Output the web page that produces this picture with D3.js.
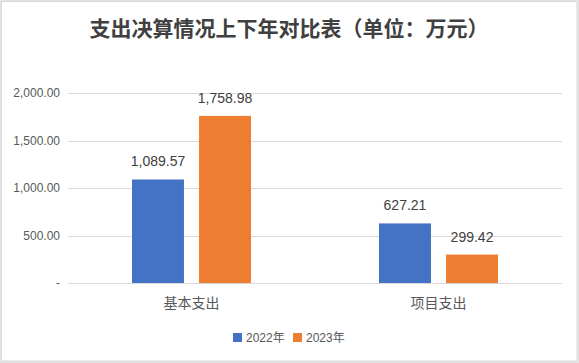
<!DOCTYPE html>
<html>
<head>
<meta charset="utf-8">
<script src="https://cdn.jsdelivr.net/npm/d3@7"></script>
<style>
  html, body { margin: 0; padding: 0; background: #e3e3e3; }
  svg { display: block; }
</style>
</head>
<body>
<div id="chart"></div>
<script>
// chart data
const categories = ["基本支出", "项目支出"];
const seriesNames = ["2022年", "2023年"];
const values2022 = [1089.57, 627.21];
const values2023 = [1758.98, 299.42];
const yTicks = [0, 500, 1000, 1500, 2000];
const colors = ["#4472C4", "#ED7D31"];

const W = 579, H = 363;
const margin = { top: 93, right: 17, bottom: 80, left: 68 };
const plotW = W - margin.left - margin.right;
const plotH = H - margin.top - margin.bottom;

const svg = d3.select("#chart").append("svg")
    .attr("width", W)
    .attr("height", H);

// frame
svg.append("rect")
    .attr("x", 1.5).attr("y", 1.5)
    .attr("width", W - 3.5).attr("height", H - 3.5)
    .attr("fill", "#fff")
    .attr("stroke", "#d9d9d9");

// title
svg.append("text")
    .attr("x", 289)
    .attr("y", 36)
    .attr("text-anchor", "middle")
    .attr("font-family", "'Noto Sans CJK SC', sans-serif")
    .attr("font-size", 21)
    .attr("font-weight", "bold")
    .attr("fill", "#404040")
    .text("支出决算情况上下年对比表（单位：万元）");

const g = svg.append("g")
    .attr("transform", `translate(${margin.left},${margin.top})`);

const x0 = d3.scaleBand()
    .domain(categories)
    .range([0, plotW])
    .paddingInner(0)
    .paddingOuter(0);

const x1 = d3.scaleBand()
    .domain(seriesNames)
    .range([64, x0.bandwidth() - 64])
    .paddingInner(0.225);

const y = d3.scaleLinear()
    .domain([0, 2000])
    .range([plotH, 0]);

// gridlines
g.append("g")
    .selectAll("line")
    .data(yTicks)
    .enter().append("line")
    .attr("x1", 0).attr("x2", plotW)
    .attr("y1", d => Math.round(y(d)) + 0.5)
    .attr("y2", d => Math.round(y(d)) + 0.5)
    .attr("stroke", "#d9d9d9")
    .attr("stroke-width", 1);

// y axis labels
const yAxis = d3.axisLeft(y)
    .tickValues(yTicks)
    .tickSize(0)
    .tickPadding(8)
    .tickFormat(d => d === 0 ? "-" : d3.format(",.2f")(d));

g.append("g")
    .call(yAxis)
    .call(s => s.select(".domain").remove())
    .selectAll("text")
    .attr("font-family", "'Liberation Sans', Arial, sans-serif")
    .attr("font-size", 12)
    .attr("fill", "#595959");

// bars
const rows = categories.map((c, i) => ({
    category: c,
    vals: [values2022[i], values2023[i]]
}));

const groups = g.selectAll(".grp")
    .data(rows)
    .enter().append("g")
    .attr("class", "grp")
    .attr("transform", d => `translate(${x0(d.category)},0)`);

groups.selectAll("rect")
    .data(d => d.vals.map((v, k) => ({ v, k })))
    .enter().append("rect")
    .attr("x", d => x1(seriesNames[d.k]))
    .attr("y", d => y(d.v))
    .attr("width", x1.bandwidth())
    .attr("height", d => y(0) - y(d.v))
    .attr("fill", d => colors[d.k]);

groups.selectAll(".lbl")
    .data(d => d.vals.map((v, k) => ({ v, k })))
    .enter().append("text")
    .attr("class", "lbl")
    .attr("x", d => x1(seriesNames[d.k]) + x1.bandwidth() / 2)
    .attr("y", d => y(d.v) - 13)
    .attr("text-anchor", "middle")
    .attr("font-family", "'Liberation Sans', Arial, sans-serif")
    .attr("font-size", 14)
    .attr("fill", "#404040")
    .text(d => d3.format(",.2f")(d.v));

// x axis labels
g.append("g")
    .selectAll("text")
    .data(categories)
    .enter().append("text")
    .attr("x", d => x0(d) + x0.bandwidth() / 2)
    .attr("y", plotH + 25)
    .attr("text-anchor", "middle")
    .attr("font-family", "'Noto Sans CJK SC', sans-serif")
    .attr("font-size", 14)
    .attr("fill", "#595959")
    .text(d => d);

// legend
const legend = svg.append("g")
    .attr("transform", "translate(233,333)");

const legendX = [0, 60];
seriesNames.forEach((name, i) => {
    const item = legend.append("g").attr("transform", `translate(${legendX[i]},0)`);
    item.append("rect")
        .attr("width", 9).attr("height", 9)
        .attr("fill", colors[i]);
    item.append("text")
        .attr("x", 13)
        .attr("y", 9)
        .attr("font-family", "'Liberation Sans', Arial, 'Noto Sans CJK SC', sans-serif")
        .attr("font-size", 12)
        .attr("fill", "#595959")
        .text(name);
});
</script>
</body>
</html>
